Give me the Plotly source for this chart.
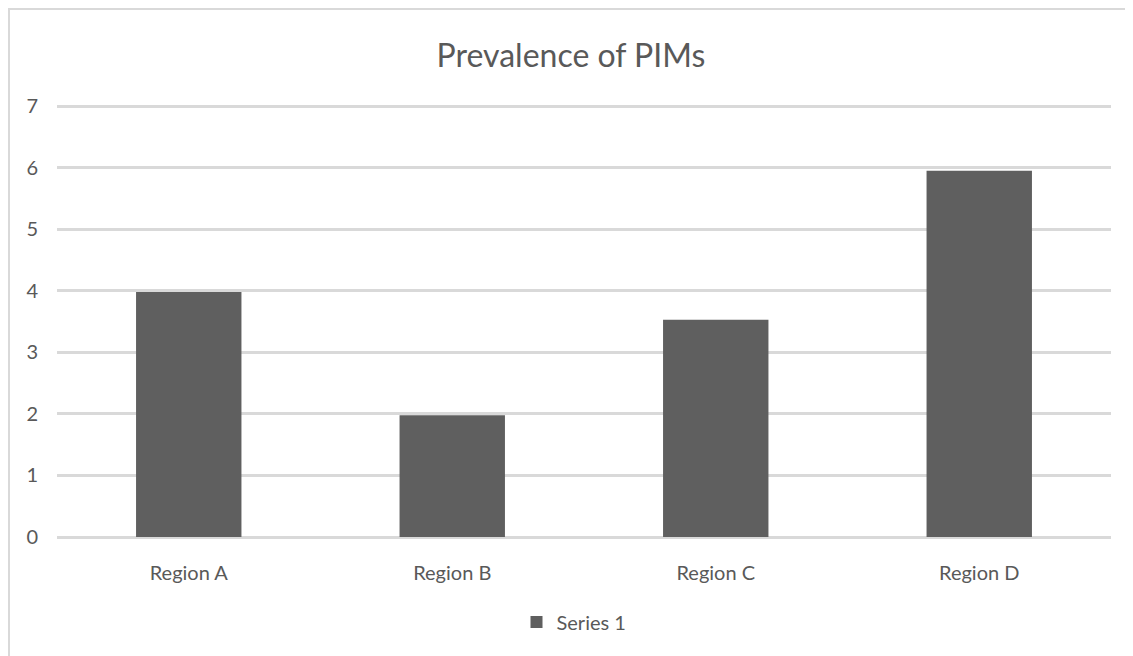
import plotly.graph_objects as go

categories = ["Region A", "Region B", "Region C", "Region D"]
values = [3.98, 1.98, 3.53, 5.95]
series_name = "Series 1"
y_ticks = [0, 1, 2, 3, 4, 5, 6, 7]

# the page body adds an 8px offset; the figure is drawn in figure coordinates
W, H = 1125, 648
L, R, T, B = 49, 22, 92, 119
pw, ph = W - L - R, H - T - B

fig = go.Figure()
fig.add_trace(go.Bar(
    x=categories, y=values, name=series_name,
    marker=dict(color="#5f5f5f", line=dict(width=0)),
    width=0.4,
))

txt = "#595959"
font = "Lato, 'Open Sans', sans-serif"

def px_x(p):
    return (p - L) / pw

def px_y(p):
    return (H - B - p) / ph

fig.update_layout(
    width=W, height=H,
    margin=dict(l=L, r=R, t=T, b=B),
    paper_bgcolor="white", plot_bgcolor="white",
    font=dict(family=font, color=txt, size=20),
    title=dict(text="Prevalence of PIMs", x=563 / W, xanchor="center",
               y=1 - 48 / H, yanchor="middle", yref="container",
               font=dict(size=32, color=txt, family=font)),
    showlegend=True,
    legend=dict(orientation="h", x=px_x(566), xanchor="center",
                y=px_y(614), yanchor="middle",
                font=dict(size=20, color=txt)),
    xaxis=dict(showgrid=False, showline=False, ticks="",
               tickfont=dict(size=20, color=txt), ticklabelstandoff=22),
    yaxis=dict(range=[0, 7.1], tickvals=y_ticks, showgrid=True,
               gridcolor="#d9d9d9", gridwidth=3, zeroline=True,
               zerolinecolor="#d9d9d9", zerolinewidth=3, showline=False,
               ticks="", tickfont=dict(size=20, color=txt),
               ticklabelstandoff=18),
    shapes=[
        dict(type="line", xref="paper", yref="paper",
             x0=px_x(0), x1=px_x(W + 5), y0=px_y(1), y1=px_y(1),
             line=dict(color="#d9d9d9", width=2)),
        dict(type="line", xref="paper", yref="paper",
             x0=px_x(1), x1=px_x(1), y0=px_y(0), y1=px_y(H + 5),
             line=dict(color="#d9d9d9", width=2)),
    ],
)

fig.write_html("out.html")
